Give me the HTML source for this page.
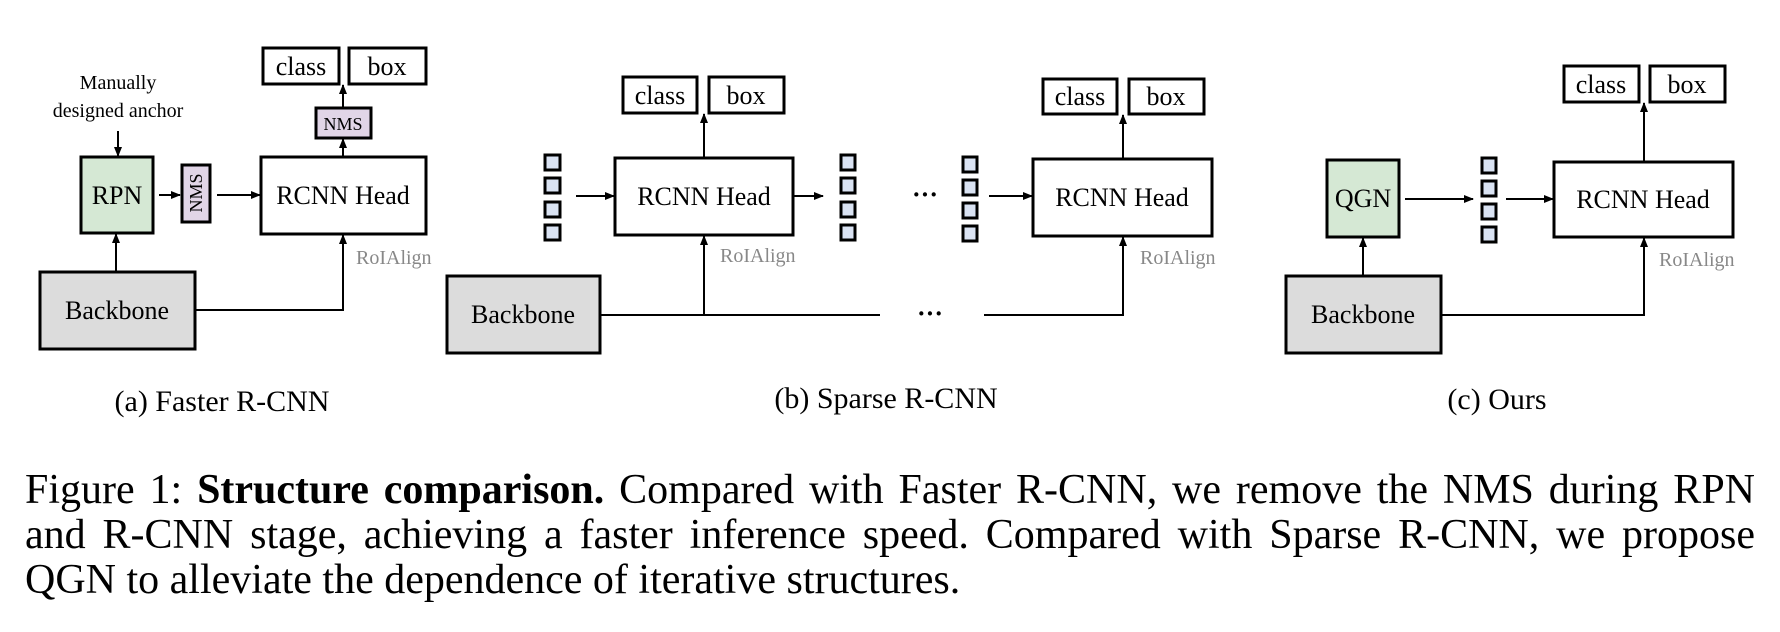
<!DOCTYPE html>
<html><head><meta charset="utf-8"><style>
body{margin:0;background:#fff;width:1780px;height:632px;overflow:hidden}
svg{position:absolute;left:0;top:0}
.cap{position:absolute;left:25px;top:468px;width:1730px;font-family:"Liberation Serif",serif;font-size:42px;line-height:45px;color:#000}
.cap div{white-space:nowrap}
.j{text-align:justify;text-align-last:justify}
</style></head><body>
<svg width="1780" height="632" viewBox="0 0 1780 632" font-family="Liberation Serif, serif">
<defs><marker id="a" markerWidth="10" markerHeight="10" refX="9" refY="5" orient="auto" markerUnits="userSpaceOnUse"><path d="M0,1 L10,5 L0,9 z" fill="#000"/></marker></defs>
<g stroke="#000" stroke-width="2" fill="none">
<line x1="118" y1="131" x2="118" y2="156" marker-end="url(#a)"/>
<line x1="116" y1="272" x2="116" y2="234" marker-end="url(#a)"/>
<line x1="159" y1="195" x2="180" y2="195" marker-end="url(#a)"/>
<line x1="217" y1="195" x2="260" y2="195" marker-end="url(#a)"/>
<line x1="343" y1="157" x2="343" y2="139" marker-end="url(#a)"/>
<line x1="343" y1="108" x2="343" y2="85" marker-end="url(#a)"/>
<polyline points="195,310 343,310 343,235" marker-end="url(#a)"/>
<line x1="576" y1="196" x2="614" y2="196" marker-end="url(#a)"/>
<line x1="704" y1="158" x2="704" y2="114" marker-end="url(#a)"/>
<line x1="793" y1="196" x2="823" y2="196" marker-end="url(#a)"/>
<line x1="989" y1="196" x2="1032" y2="196" marker-end="url(#a)"/>
<line x1="1123" y1="159" x2="1123" y2="115" marker-end="url(#a)"/>
<line x1="600" y1="315" x2="880" y2="315"/>
<line x1="704" y1="315" x2="704" y2="236" marker-end="url(#a)"/>
<polyline points="984,315 1123,315 1123,237" marker-end="url(#a)"/>
<line x1="1363" y1="276" x2="1363" y2="238" marker-end="url(#a)"/>
<line x1="1405" y1="199" x2="1473" y2="199" marker-end="url(#a)"/>
<line x1="1506" y1="199" x2="1553" y2="199" marker-end="url(#a)"/>
<line x1="1644" y1="162" x2="1644" y2="103" marker-end="url(#a)"/>
<polyline points="1441,315 1644,315 1644,238" marker-end="url(#a)"/>
</g>
<g stroke="#000" stroke-width="3">
<rect x="81" y="157" width="72" height="76" fill="#d5e8d4"/>
<rect x="182" y="165" width="28" height="57" fill="#e1d5e7"/>
<rect x="261" y="157" width="165" height="77" fill="#fff"/>
<rect x="316" y="108" width="55" height="30" fill="#e1d5e7"/>
<rect x="263" y="48" width="76" height="36" fill="#fff"/>
<rect x="349" y="48" width="77" height="36" fill="#fff"/>
<rect x="40" y="272" width="155" height="77" fill="#dcdcdc"/>
<rect x="615" y="158" width="178" height="77" fill="#fff"/>
<rect x="623" y="77" width="74" height="36" fill="#fff"/>
<rect x="709" y="77" width="75" height="36" fill="#fff"/>
<rect x="447" y="276" width="153" height="77" fill="#dcdcdc"/>
<rect x="1033" y="159" width="179" height="77" fill="#fff"/>
<rect x="1043" y="79" width="74" height="35" fill="#fff"/>
<rect x="1129" y="79" width="75" height="35" fill="#fff"/>
<rect x="1327" y="160" width="72" height="77" fill="#d5e8d4"/>
<rect x="1554" y="162" width="179" height="75" fill="#fff"/>
<rect x="1564" y="66" width="75" height="36" fill="#fff"/>
<rect x="1650" y="66" width="75" height="36" fill="#fff"/>
<rect x="1286" y="276" width="155" height="77" fill="#dcdcdc"/>
<g fill="#dae3f3">
<rect x="545" y="155" width="15" height="15"/><rect x="545" y="178" width="15" height="15"/><rect x="545" y="202" width="15" height="15"/><rect x="545" y="225" width="15" height="15"/>
<rect x="841" y="155" width="14" height="15"/><rect x="841" y="178" width="14" height="15"/><rect x="841" y="202" width="14" height="15"/><rect x="841" y="225" width="14" height="15"/>
<rect x="963" y="157" width="14" height="15"/><rect x="963" y="180" width="14" height="15"/><rect x="963" y="203" width="14" height="15"/><rect x="963" y="226" width="14" height="15"/>
<rect x="1482" y="158" width="14" height="15"/><rect x="1482" y="181" width="14" height="15"/><rect x="1482" y="204" width="14" height="15"/><rect x="1482" y="227" width="14" height="15"/>
</g>
</g>
<g font-size="26" text-anchor="middle" fill="#000">
<text x="117" y="204">RPN</text>
<text x="343" y="204">RCNN Head</text>
<text x="301" y="75">class</text><text x="387" y="75">box</text>
<text x="117" y="319">Backbone</text>
<text x="704" y="205">RCNN Head</text>
<text x="660" y="104">class</text><text x="746" y="104">box</text>
<text x="523" y="323">Backbone</text>
<text x="1122" y="206">RCNN Head</text>
<text x="1080" y="105">class</text><text x="1166" y="105">box</text>
<text x="1363" y="207">QGN</text>
<text x="1643" y="208">RCNN Head</text>
<text x="1601" y="93">class</text><text x="1687" y="93">box</text>
<text x="1363" y="323">Backbone</text>
</g>
<text x="343" y="130" font-size="18" text-anchor="middle">NMS</text>
<text transform="translate(202,193) rotate(-90)" font-size="18" text-anchor="middle">NMS</text>
<g font-size="20" text-anchor="middle">
<text x="118" y="89">Manually</text>
<text x="118" y="117">designed anchor</text>
</g>
<g font-size="20" fill="#888">
<text x="356" y="264">RoIAlign</text>
<text x="720" y="262">RoIAlign</text>
<text x="1140" y="264">RoIAlign</text>
<text x="1659" y="266">RoIAlign</text>
</g>
<g font-size="26" font-weight="bold">
<text x="912" y="203">···</text>
<text x="917" y="322">···</text>
</g>
<g font-size="30" text-anchor="middle">
<text x="222" y="411">(a) Faster R-CNN</text>
<text x="886" y="408">(b) Sparse R-CNN</text>
<text x="1497" y="409">(c) Ours</text>
</g>
</svg>
<div class="cap">
<div class="j">Figure 1: <b>Structure comparison.</b> Compared with Faster R-CNN, we remove the NMS during RPN</div>
<div class="j">and R-CNN stage, achieving a faster inference speed. Compared with Sparse R-CNN, we propose</div>
<div>QGN to alleviate the dependence of iterative structures.</div>
</div>
</body></html>
